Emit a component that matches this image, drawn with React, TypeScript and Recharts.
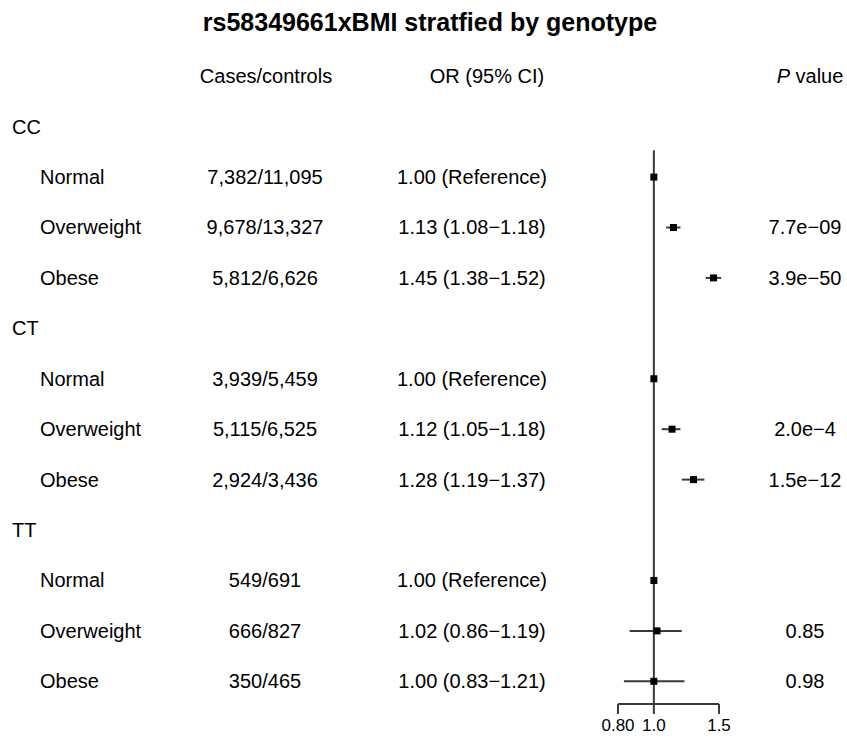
import { ScatterChart, Scatter, XAxis, YAxis, ErrorBar, ReferenceLine } from "recharts";

const TITLE = "rs58349661xBMI stratfied by genotype";
const GENOTYPES = ["CC", "CT", "TT"];
const BMI_GROUPS = ["Normal", "Overweight", "Obese"];
const CASES_CONTROLS = [
  "7,382/11,095", "9,678/13,327", "5,812/6,626",
  "3,939/5,459", "5,115/6,525", "2,924/3,436",
  "549/691", "666/827", "350/465",
];
const OR_VALUES = [1.0, 1.13, 1.45, 1.0, 1.12, 1.28, 1.0, 1.02, 1.0];
const CI_LOW = [1.0, 1.08, 1.38, 1.0, 1.05, 1.19, 1.0, 0.86, 0.83];
const CI_HIGH = [1.0, 1.18, 1.52, 1.0, 1.18, 1.37, 1.0, 1.19, 1.21];
const IS_REFERENCE = [true, false, false, true, false, false, true, false, false];
const P_VALUES = ["", "7.7e\u221209", "3.9e\u221250", "", "2.0e\u22124", "1.5e\u221212", "", "0.85", "0.98"];
const X_TICKS = [0.8, 1.0, 1.5];
const X_TICK_LABELS = ["0.80", "1.0", "1.5"];

const FONT = "'Liberation Sans', Arial, sans-serif";
const LINE = "#3a3a3a";

type Row = { kind: "header" | "group" | "item"; label: string; idx?: number };

// row 0 is the column header, then each genotype followed by its three BMI rows
const rows: Row[] = [{ kind: "header", label: "" }];
GENOTYPES.forEach((g, gi) => {
  rows.push({ kind: "group", label: g });
  BMI_GROUPS.forEach((b, bi) => rows.push({ kind: "item", label: b, idx: gi * 3 + bi }));
});

const points = rows
  .map((r, i) => ({ r, i }))
  .filter(({ r }) => r.kind === "item")
  .map(({ r, i }) => {
    const k = r.idx as number;
    return { row: i, or: OR_VALUES[k], err: [OR_VALUES[k] - CI_LOW[k], CI_HIGH[k] - OR_VALUES[k]] };
  });

const fmt = (v: number) => v.toFixed(2);
const orLabel = (k: number) =>
  IS_REFERENCE[k] ? `${fmt(OR_VALUES[k])} (Reference)` : `${fmt(OR_VALUES[k])} (${fmt(CI_LOW[k])}\u2212${fmt(CI_HIGH[k])})`;

function RowTick(props: any) {
  const { y, payload } = props;
  const row = rows[payload.value];
  if (!row) return null;
  const base = { fontFamily: FONT, fontSize: 20, fill: "#000", dy: "0.35em" } as const;
  if (row.kind === "header") {
    return (
      <g>
        <text x={430} y={y - 54} textAnchor="middle" {...base} fontSize={25} fontWeight="bold">
          {TITLE}
        </text>
        <text x={266} y={y} textAnchor="middle" {...base}>Cases/controls</text>
        <text x={487} y={y} textAnchor="middle" {...base}>OR (95% CI)</text>
        <text x={810} y={y} textAnchor="middle" {...base}>
          <tspan fontStyle="italic">P</tspan> value
        </text>
      </g>
    );
  }
  if (row.kind === "group") {
    return <text x={12} y={y} textAnchor="start" {...base}>{row.label}</text>;
  }
  const k = row.idx as number;
  return (
    <g>
      <text x={40} y={y} textAnchor="start" {...base}>{row.label}</text>
      <text x={265} y={y} textAnchor="middle" {...base}>{CASES_CONTROLS[k]}</text>
      <text x={472} y={y} textAnchor="middle" {...base}>{orLabel(k)}</text>
      <text x={805} y={y} textAnchor="middle" {...base}>{P_VALUES[k]}</text>
    </g>
  );
}

const Square = (props: any) => {
  const { cx, cy } = props;
  return <rect x={cx - 3.5} y={cy - 3.5} width={7} height={7} fill="#000" />;
};

export default function App() {
  return (
    <div style={{ position: "absolute", left: 0, top: 0, background: "#fff" }}>
      <ScatterChart width={847} height={738} margin={{ top: 51, right: 128, bottom: 0, left: 0 }}>
        <XAxis
          type="number"
          dataKey="or"
          scale="log"
          domain={[0.8, 1.5]}
          allowDataOverflow
          ticks={X_TICKS}
          tickFormatter={(v: number) => X_TICK_LABELS[X_TICKS.indexOf(v)] ?? String(v)}
          height={34}
          tickSize={10}
          tickMargin={5}
          axisLine={{ stroke: LINE, strokeWidth: 2 }}
          tickLine={{ stroke: LINE, strokeWidth: 2 }}
          tick={{ fontFamily: FONT, fontSize: 17, fill: "#000" }}
        />
        <YAxis
          type="number"
          dataKey="row"
          domain={[-0.5, 12.45]}
          reversed
          ticks={rows.map((_, i) => i)}
          interval={0}
          width={618}
          axisLine={false}
          tickLine={false}
          tick={<RowTick />}
        />
        <ReferenceLine
          segment={[{ x: 1, y: 1.47 }, { x: 1, y: 12.45 }]}
          stroke={LINE}
          strokeWidth={2}
          ifOverflow="visible"
        />
        <Scatter data={points} shape={<Square />} isAnimationActive={false}>
          <ErrorBar dataKey="err" direction="x" width={0} stroke={LINE} strokeWidth={2} />
        </Scatter>
      </ScatterChart>
    </div>
  );
}
